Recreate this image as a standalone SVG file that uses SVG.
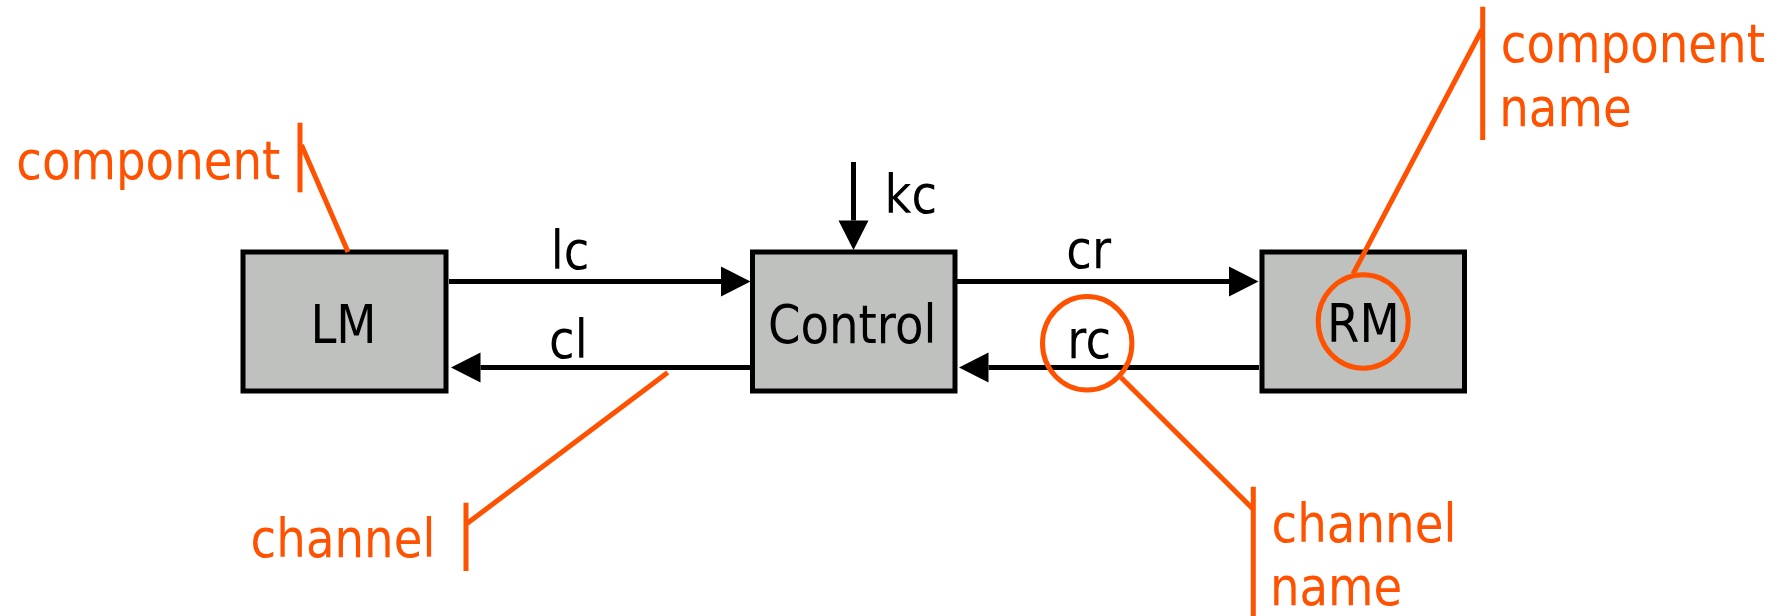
<svg xmlns="http://www.w3.org/2000/svg" width="1784" height="616" viewBox="0 0 1784 616">
  <style>
    .box { fill: #BFC1BF; stroke: #000000; stroke-width: 5; }
    .lbl { font-family: "DejaVu Sans", "Liberation Sans", sans-serif; font-size: 53px; fill: #000000; }
    .note { font-family: "DejaVu Sans", "Liberation Sans", sans-serif; font-size: 54px; fill: #FF5200; }
    .wire { stroke: #000000; stroke-width: 5; fill: none; }
    .lead { stroke: #FF5200; stroke-width: 5; fill: none; }
    .ring { stroke: #FF5200; stroke-width: 5; fill: none; }
  </style>
  <defs>
    <marker id="arrow" markerUnits="userSpaceOnUse" markerWidth="30" markerHeight="31" refX="0" refY="15" orient="auto" overflow="visible">
      <path d="M0,0 L29.5,15 L0,30 Z" fill="#000000"/>
    </marker>
  </defs>
  <rect width="1784" height="616" fill="#FFFFFF"/>

  <g id="connectors">
    <line class="wire" x1="449" y1="281.5" x2="721" y2="281.5" marker-end="url(#arrow)"/>
    <line class="wire" x1="750" y1="367.5" x2="480.5" y2="367.5" marker-end="url(#arrow)"/>
    <line class="wire" x1="957" y1="281.5" x2="1229" y2="281.5" marker-end="url(#arrow)"/>
    <line class="wire" x1="1259" y1="367.5" x2="988.5" y2="367.5" marker-end="url(#arrow)"/>
    <line class="wire" x1="853.5" y1="162" x2="853.5" y2="220.5" marker-end="url(#arrow)"/>
    <text class="lbl" text-anchor="middle" transform="translate(570,269.3) scale(0.88,1)">lc</text>
    <text class="lbl" text-anchor="middle" transform="translate(568.3,358.3) scale(0.88,1)">cl</text>
    <text class="lbl" text-anchor="middle" transform="translate(1088.7,268.3) scale(0.88,1)">cr</text>
    <text class="lbl" text-anchor="middle" transform="translate(1089.2,358.3) scale(0.88,1)">rc</text>
    <text class="lbl" text-anchor="middle" transform="translate(910.8,213.3) scale(0.88,1)">kc</text>
  </g>

  <g id="LM">
    <rect class="box" x="243" y="252" width="203" height="139"/>
    <text class="lbl" text-anchor="middle" transform="translate(343.5,343) scale(0.88,1)">LM</text>
  </g>
  <g id="Control">
    <rect class="box" x="752.5" y="252" width="202.5" height="139"/>
    <text class="lbl" text-anchor="middle" transform="translate(852.2,342.7) scale(0.88,1)">Control</text>
  </g>
  <g id="RM">
    <rect class="box" x="1262" y="252" width="202.5" height="139"/>
    <text class="lbl" text-anchor="middle" transform="translate(1363.3,342.3) scale(0.88,1)">RM</text>
  </g>

  <g id="annotations">
    <g id="note-component">
      <line class="lead" x1="300" y1="122.7" x2="300" y2="192.3"/>
      <line class="lead" x1="301.5" y1="145" x2="348" y2="252"/>
      <text class="note" text-anchor="middle" transform="translate(148.3,179) scale(0.865,1)">component</text>
    </g>
    <g id="note-component-name">
      <ellipse class="ring" cx="1363.2" cy="321.5" rx="45" ry="46.7"/>
      <line class="lead" x1="1482.7" y1="6.7" x2="1482.7" y2="140"/>
      <line class="lead" x1="1353" y1="274" x2="1482" y2="29.5"/>
      <text class="note" transform="translate(1500.8,62.3) scale(0.865,1)">component</text>
      <text class="note" transform="translate(1499.2,125.7) scale(0.865,1)">name</text>
    </g>
    <g id="note-channel">
      <line class="lead" x1="466" y1="502.7" x2="466" y2="571"/>
      <line class="lead" x1="667.7" y1="372.5" x2="467" y2="523.5"/>
      <text class="note" text-anchor="middle" transform="translate(343,556.7) scale(0.865,1)">channel</text>
    </g>
    <g id="note-channel-name">
      <ellipse class="ring" cx="1087.2" cy="343.3" rx="44.7" ry="46.8"/>
      <line class="lead" x1="1253.3" y1="486.7" x2="1253.3" y2="616"/>
      <line class="lead" x1="1121" y1="377.5" x2="1253" y2="509"/>
      <text class="note" transform="translate(1271.6,541.7) scale(0.865,1)">channel</text>
      <text class="note" transform="translate(1269.9,605) scale(0.865,1)">name</text>
    </g>
  </g>
</svg>
